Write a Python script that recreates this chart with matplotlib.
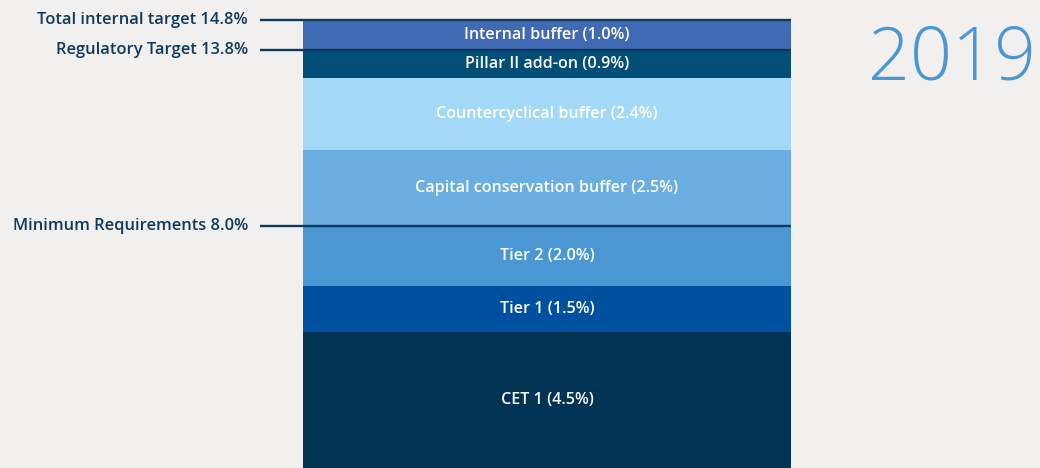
import matplotlib.pyplot as plt

# capital stack, bottom to top (% of RWA)
segments = ['CET 1', 'Tier 1', 'Tier 2', 'Capital conservation buffer',
            'Countercyclical buffer', 'Pillar II add-on', 'Internal buffer']
values = [4.5, 1.5, 2.0, 2.5, 2.4, 0.9, 1.0]
colors = ['#003354', '#0050a0', '#4a97d3', '#6aade0', '#a3d9f6', '#034e77', '#416ab4']

ref_labels = ['Total internal target', 'Regulatory Target', 'Minimum Requirements']
ref_levels = [14.8, 13.8, 8.0]

year = '2019'

bg = '#f2f0ef'
navy = '#0e3a5e'

plt.rcParams['font.family'] = ['Open Sans', 'DejaVu Sans']

fig = plt.figure(figsize=(10.4, 4.68), dpi=100, facecolor=bg)
ax = fig.add_axes([0, 0, 1, 448 / 468])
ax.set_facecolor(bg)
ax.set_xlim(0, 1040)
ax.set_ylim(0, sum(values))
ax.axis('off')

bar_x, bar_w = 547, 488
bottom = 0
for name, v, c in zip(segments, values, colors):
    ax.bar(bar_x, v, width=bar_w, bottom=bottom, color=c, linewidth=0)
    ax.text(bar_x, bottom + v / 2, f'{name} ({v:.1f}%)', color='white',
            ha='center', va='center', fontsize=11.6, fontweight='semibold')
    bottom += v

for lab, lvl in zip(ref_labels, ref_levels):
    ax.plot([260, bar_x + bar_w / 2], [lvl, lvl], color=navy, lw=1.7,
            solid_capstyle='butt', zorder=5, clip_on=False)
    ax.text(248, lvl, f'{lab} {lvl:.1f}%', color=navy, ha='right', va='center',
            fontsize=11.9, fontweight='semibold', clip_on=False)

fig.text(952 / 1040, 1 - 61 / 468, year, color='#4a97d3', fontsize=53,
         fontweight='light', ha='center', va='center')

fig.savefig('out.png', dpi=100, facecolor=bg)
